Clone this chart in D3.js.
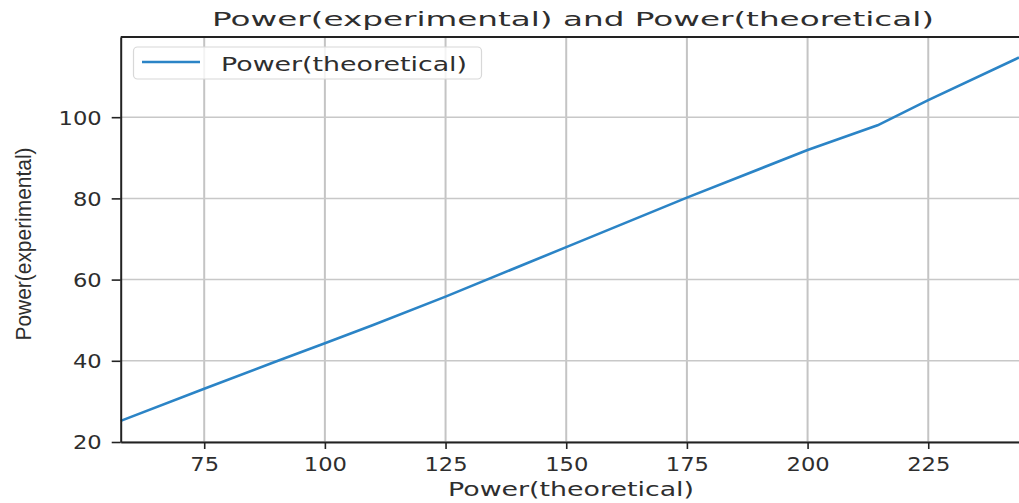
<!DOCTYPE html>
<html>
<head>
<meta charset="utf-8">
<script src="https://cdn.jsdelivr.net/npm/d3@7"></script>
<style>
  body { margin: 0; background: #fff; }
  text { font-family: 'DejaVu Sans', sans-serif; fill: #2e2e2e; }
</style>
</head>
<body>
<svg id="chart" width="1019" height="503"></svg>
<script>
// data
const theoretical = [57.7, 75, 90, 100, 110, 125, 150, 175, 200, 214.5, 225, 243.8];
const experimental = [25.2, 33.1, 39.9, 44.3, 48.8, 55.8, 68.0, 80.2, 91.9, 98.0, 104.2, 114.7];
const xTicks = [75, 100, 125, 150, 175, 200, 225];
const yTicks = [20, 40, 60, 80, 100];

const svg = d3.select('#chart');
const plotLeft = 120.7, plotRight = 1019, plotTop = 37, plotBottom = 442;

const x = d3.scaleLinear().domain([57.7, 243.8]).range([plotLeft, plotRight]);
const y = d3.scaleLinear().domain([20, 119.75]).range([plotBottom, plotTop]);

//grid
svg.append('g')
  .selectAll('line')
  .data(xTicks)
  .join('line')
  .attr('x1', d => x(d)).attr('x2', d => x(d))
  .attr('y1', plotTop).attr('y2', plotBottom)
  .attr('stroke', '#c4c4c4').attr('stroke-width', 2);

svg.append('g')
  .selectAll('line')
  .data(yTicks)
  .join('line')
  .attr('x1', plotLeft).attr('x2', plotRight)
  .attr('y1', d => y(d)).attr('y2', d => y(d))
  .attr('stroke', '#c8c8c8').attr('stroke-width', 1.5);

//line
const line = d3.line()
  .x((d, i) => x(theoretical[i]))
  .y(d => y(d));

svg.append('path')
  .datum(experimental)
  .attr('fill', 'none')
  .attr('stroke', '#2b84c6')
  .attr('stroke-width', 2.6)
  .attr('d', line);

//axes
const xAxis = d3.axisBottom(x).tickValues(xTicks).tickSize(7).tickSizeOuter(0).tickPadding(8);
const yAxis = d3.axisLeft(y).tickValues(yTicks).tickSize(9).tickSizeOuter(0).tickPadding(10);

const xAxisGroup = svg.append('g').attr('transform', `translate(0,${plotBottom})`).call(xAxis);
const yAxisGroup = svg.append('g').attr('transform', `translate(${plotLeft},0)`).call(yAxis);

[xAxisGroup, yAxisGroup].forEach(g => {
  g.select('.domain').attr('stroke', '#222').attr('stroke-width', 2);
  g.selectAll('.tick line').attr('stroke', '#222').attr('stroke-width', 1.6);
  g.selectAll('text')
    .style('font-family', "'DejaVu Sans', sans-serif")
    .style('font-size', '19px')
    .attr('fill', '#2e2e2e')
    .attr('textLength', function() { return this.textContent.length * 14.4; })
    .attr('lengthAdjust', 'spacingAndGlyphs');
});
xAxisGroup.selectAll('text').attr('dy', '0.75em');
yAxisGroup.selectAll('text').attr('dy', '0.36em');

// top spine
svg.append('line')
  .attr('x1', plotLeft).attr('x2', plotRight)
  .attr('y1', plotTop).attr('y2', plotTop)
  .attr('stroke', '#222').attr('stroke-width', 2);

//title and labels
svg.append('text')
  .attr('x', 573).attr('y', 26)
  .attr('text-anchor', 'middle')
  .style('font-size', '20px')
  .attr('textLength', 722).attr('lengthAdjust', 'spacingAndGlyphs')
  .text('Power(experimental) and Power(theoretical)');

svg.append('text')
  .attr('x', 571).attr('y', 496)
  .attr('text-anchor', 'middle')
  .style('font-size', '19px')
  .attr('textLength', 246).attr('lengthAdjust', 'spacingAndGlyphs')
  .text('Power(theoretical)');

svg.append('text')
  .attr('transform', 'translate(31,244) rotate(-90)')
  .attr('text-anchor', 'middle')
  .style('font-family', "'Liberation Sans Narrow', 'Liberation Sans', sans-serif")
  .style('font-size', '22px')
  .attr('textLength', 193).attr('lengthAdjust', 'spacingAndGlyphs')
  .text('Power(experimental)');

//legend
const legend = svg.append('g');
legend.append('rect')
  .attr('x', 133.5).attr('y', 47).attr('width', 348).attr('height', 32)
  .attr('rx', 4)
  .attr('fill', '#fff').attr('fill-opacity', 0.8)
  .attr('stroke', '#d8d8d8').attr('stroke-width', 1.2);
legend.append('line')
  .attr('x1', 142).attr('x2', 200).attr('y1', 62).attr('y2', 62)
  .attr('stroke', '#2b84c6').attr('stroke-width', 2.6);
legend.append('text')
  .attr('x', 221).attr('y', 71)
  .style('font-size', '19px')
  .attr('textLength', 246).attr('lengthAdjust', 'spacingAndGlyphs')
  .text('Power(theoretical)');
</script>
</body>
</html>
